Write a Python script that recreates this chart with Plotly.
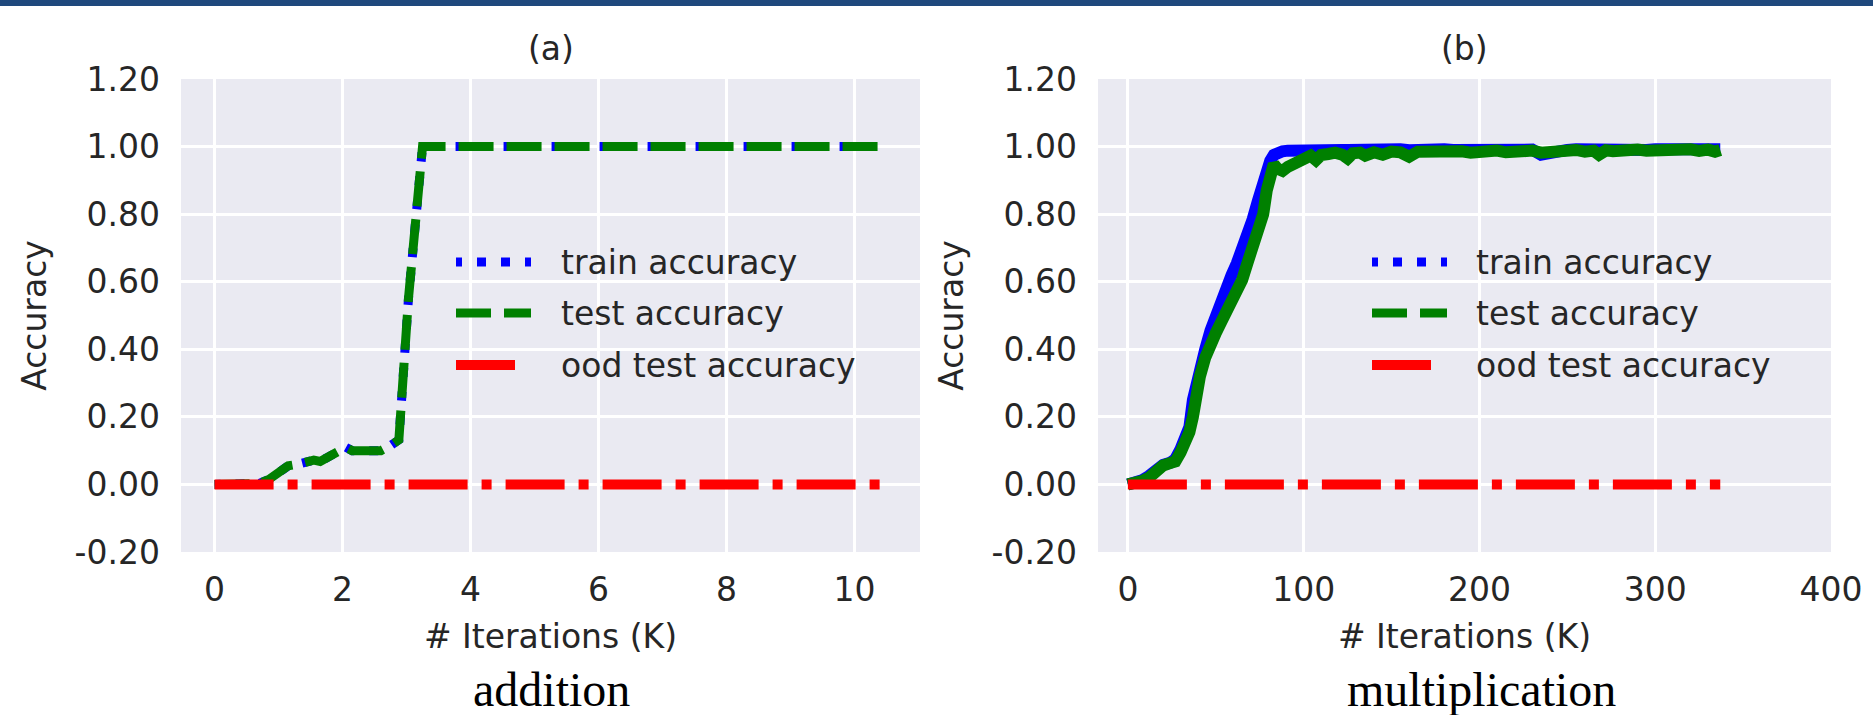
import plotly.graph_objects as go

# ---------------- data: (a) addition ----------------
add_iters = [0, 0.4, 0.7, 0.85, 1.0, 1.15, 1.3, 1.45, 1.55, 1.65, 1.75, 1.85, 1.95,
             2.05, 2.15, 2.3, 2.45, 2.6, 2.75, 2.88, 3.03, 3.25, 3.5, 4.5, 5.5,
             6.5, 7.5, 8.5, 9.5, 10.5]
add_train = [0.0, 0.0, 0.003, 0.015, 0.035, 0.055, 0.06, 0.065, 0.072, 0.068, 0.078,
             0.088, 0.095, 0.11, 0.10, 0.10, 0.105, 0.10, 0.115, 0.132, 0.55, 1.0,
             1.0, 1.0, 1.0, 1.0, 1.0, 1.0, 1.0, 1.0]
add_test = [0.0, 0.0, 0.003, 0.015, 0.035, 0.055, 0.06, 0.065, 0.072, 0.068, 0.078,
            0.088, 0.095, 0.11, 0.10, 0.10, 0.105, 0.10, 0.115, 0.132, 0.55, 1.0,
            1.0, 1.0, 1.0, 1.0, 1.0, 1.0, 1.0, 1.0]
add_ood_iters = [0, 5.25, 10.5]
add_ood = [0.0, 0.0, 0.0]

# ---------------- data: (b) multiplication ----------------
mul_iters = [0, 4, 8, 12, 16, 20, 24, 27, 30, 33, 35, 37, 39, 41, 44, 47, 50, 53, 56,
             59, 62, 65, 68, 71, 74, 77, 79, 81, 83, 85, 88, 91, 94, 97, 100, 104,
             107, 110, 114, 118, 122, 125, 128, 132, 135, 140, 145, 150, 155, 160,
             165, 170, 175, 180, 185, 190, 195, 200, 205, 210, 215, 220, 225, 230,
             235, 240, 245, 250, 255, 260, 265, 268, 272, 276, 280, 285, 290, 295,
             300, 305, 310, 315, 320, 325, 330, 334, 337]
mul_train = [0.0, 0.005, 0.012, 0.025, 0.045, 0.058, 0.064, 0.075, 0.105, 0.14, 0.17,
             0.25, 0.30, 0.34, 0.40, 0.455, 0.50, 0.55, 0.58, 0.62, 0.655, 0.695,
             0.735, 0.785, 0.84, 0.895, 0.935, 0.958, 0.975, 0.983, 0.986, 0.988,
             0.989, 0.990, 0.990, 0.991, 0.989, 0.991, 0.990, 0.991, 0.990, 0.990,
             0.991, 0.990, 0.989, 0.991, 0.990, 0.991, 0.992, 0.989, 0.991, 0.990,
             0.991, 0.992, 0.990, 0.991, 0.989, 0.991, 0.992, 0.990, 0.991, 0.992,
             0.990, 0.991, 0.976, 0.982, 0.991, 0.990, 0.992, 0.991, 0.990, 0.992,
             0.991, 0.990, 0.992, 0.991, 0.992, 0.990, 0.992, 0.991, 0.992, 0.990,
             0.993, 0.991, 0.993, 0.990, 0.992]
mul_test = [0.0, 0.003, 0.01, 0.02, 0.04, 0.056, 0.063, 0.068, 0.095, 0.125, 0.155,
            0.20, 0.28, 0.32, 0.375, 0.42, 0.448, 0.48, 0.51, 0.535, 0.57, 0.605,
            0.655, 0.70, 0.75, 0.80, 0.87, 0.92, 0.948, 0.935, 0.928, 0.94, 0.948,
            0.958, 0.968, 0.973, 0.960, 0.975, 0.978, 0.982, 0.976, 0.965, 0.980,
            0.982, 0.973, 0.983, 0.976, 0.985, 0.983, 0.970, 0.985, 0.986, 0.979,
            0.987, 0.983, 0.986, 0.982, 0.987, 0.984, 0.988, 0.983, 0.987, 0.984,
            0.988, 0.982, 0.986, 0.989, 0.986, 0.990, 0.985, 0.988, 0.976, 0.989,
            0.986, 0.990, 0.987, 0.991, 0.988, 0.990, 0.987, 0.991, 0.988, 0.992,
            0.987, 0.991, 0.985, 0.990]
mul_ood_iters = [0, 170, 337]
mul_ood = [0.0, 0.0, 0.0]

# ---------------- tick labels ----------------
y_tickvals = [-0.2, 0.0, 0.2, 0.4, 0.6, 0.8, 1.0, 1.2]
y_ticktext = ["-0.20", "0.00", "0.20", "0.40", "0.60", "0.80", "1.00", "1.20"]
add_xticks = [0, 2, 4, 6, 8, 10]
mul_xticks = [0, 100, 200, 300, 400]

series_names = ["train accuracy", "test accuracy", "ood test accuracy"]
panel_titles = ["(a)", "(b)"]
captions = ["addition", "multiplication"]

BLUE, GREEN, RED = "#0000FF", "#008000", "#FF0000"
TXT = "#262626"
FONT = "DejaVu Sans"
FS = 33

DOT = "6px,15px,3px,0px"
DASH = "35px,13px"
DASHDOT = "59px,14px,10px,14px"

fig = go.Figure()

# (a) addition
fig.add_trace(go.Scatter(x=add_iters, y=add_train, mode="lines", name=series_names[0],
                         line=dict(color=BLUE, width=9, dash=DOT), xaxis="x", yaxis="y"))
fig.add_trace(go.Scatter(x=add_iters, y=add_test, mode="lines", name=series_names[1],
                         line=dict(color=GREEN, width=9, dash=DASH), xaxis="x", yaxis="y"))
fig.add_trace(go.Scatter(x=add_ood_iters, y=add_ood, mode="lines", name=series_names[2],
                         line=dict(color=RED, width=10, dash=DASHDOT), xaxis="x", yaxis="y"))
# (b) multiplication
fig.add_trace(go.Scatter(x=mul_iters, y=mul_train, mode="lines", name=series_names[0],
                         line=dict(color=BLUE, width=12), xaxis="x2", yaxis="y2"))
fig.add_trace(go.Scatter(x=mul_iters, y=mul_test, mode="lines", name=series_names[1],
                         line=dict(color=GREEN, width=12), xaxis="x2", yaxis="y2"))
fig.add_trace(go.Scatter(x=mul_ood_iters, y=mul_ood, mode="lines", name=series_names[2],
                         line=dict(color=RED, width=10, dash=DASHDOT), xaxis="x2", yaxis="y2"))

W, H = 1873, 715
xdom_a = [181 / W, 920 / W]
xdom_b = [1098 / W, 1831 / W]
ydom = [(H - 552) / H, (H - 79) / H]

axis_common = dict(showgrid=True, gridcolor="white", gridwidth=2.5, zeroline=False,
                   showline=False, ticks="", automargin=False,
                   tickfont=dict(family=FONT, size=FS, color=TXT))

fig.update_layout(
    template="none",
    width=W, height=H, margin=dict(l=0, r=0, t=0, b=0, autoexpand=False),
    paper_bgcolor="white", plot_bgcolor="#EAEAF2", showlegend=False,
    font=dict(family=FONT, size=FS, color=TXT),
    xaxis=dict(domain=xdom_a, range=[-0.525, 11.025], tickvals=add_xticks, anchor="y",
               ticklabelstandoff=15,
               title=dict(text="# Iterations (K)", standoff=16, font=dict(family=FONT, size=FS, color=TXT)),
               **axis_common),
    yaxis=dict(domain=ydom, range=[-0.2, 1.2], tickvals=y_tickvals, ticktext=y_ticktext,
               anchor="x", ticklabelstandoff=20,
               title=dict(text="Accuracy", standoff=18, font=dict(family=FONT, size=FS, color=TXT)),
               **axis_common),
    xaxis2=dict(domain=xdom_b, range=[-17, 400], tickvals=mul_xticks, anchor="y2",
                ticklabelstandoff=15,
                title=dict(text="# Iterations (K)", standoff=16, font=dict(family=FONT, size=FS, color=TXT)),
                **axis_common),
    yaxis2=dict(domain=ydom, range=[-0.2, 1.2], tickvals=y_tickvals, ticktext=y_ticktext,
                anchor="x2", ticklabelstandoff=20,
                title=dict(text="Accuracy", standoff=18, font=dict(family=FONT, size=FS, color=TXT)),
                **axis_common),
)

shapes = [dict(type="rect", xref="paper", yref="paper", x0=0, x1=1, y0=1 - 6 / H, y1=1,
               fillcolor="#1F497D", line=dict(width=0), layer="above")]
annotations = []

# panel titles and captions
for tx_c, cap_c, t, c in [(550.5, 551.5, panel_titles[0], captions[0]),
                          (1464.5, 1481, panel_titles[1], captions[1])]:
    annotations.append(dict(x=tx_c / W, y=1 - 49 / H, xref="paper", yref="paper", text=t,
                            showarrow=False, xanchor="center", yanchor="middle",
                            font=dict(family=FONT, size=FS, color=TXT)))
    annotations.append(dict(x=cap_c / W, y=1 - 689 / H, xref="paper", yref="paper", text=c,
                            showarrow=False, xanchor="center", yanchor="middle",
                            font=dict(family="Liberation Serif", size=48, color="black")))

# legends (one per panel, frameless)
legend_styles = [(BLUE, 9, DOT, 75), (GREEN, 9, DASH, 75), (RED, 10, DASHDOT, 70)]
legend_rows = [262, 313, 365]
for hx0, tx in [(456, 559), (1372, 1474)]:
    for (col, wd, ds, ln), ry, nm in zip(legend_styles, legend_rows, series_names):
        shapes.append(dict(type="line", xref="paper", yref="paper", x0=hx0 / W, x1=(hx0 + ln) / W,
                           y0=1 - ry / H, y1=1 - ry / H, line=dict(color=col, width=wd, dash=ds)))
        annotations.append(dict(x=tx / W, y=1 - ry / H, xref="paper", yref="paper", text=nm,
                                showarrow=False, xanchor="left", yanchor="middle",
                                font=dict(family=FONT, size=FS, color=TXT)))

fig.update_layout(shapes=shapes, annotations=annotations)
fig.write_html("out.html", config={"displayModeBar": False},
               post_script="document.body.style.margin='0';document.body.style.overflow='hidden';")
